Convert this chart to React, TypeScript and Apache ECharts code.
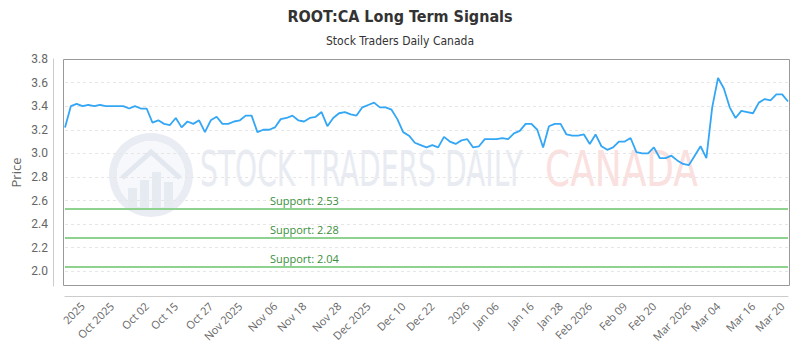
import React, { useEffect, useRef } from "react";
import * as echarts from "echarts";

// Closing prices, one per TSX trading day (Sep 22 2025 .. Mar 20 2026)
const values = [
  3.22, 3.40, 3.42, 3.40, 3.41, 3.40, 3.41, 3.40, 3.40, 3.40,
  3.40, 3.38, 3.40, 3.38, 3.38, 3.26, 3.28, 3.25, 3.24, 3.30,
  3.22, 3.27, 3.25, 3.28, 3.18, 3.28, 3.31, 3.25, 3.25, 3.27,
  3.28, 3.32, 3.32, 3.18, 3.20, 3.20, 3.22, 3.29, 3.30, 3.32,
  3.28, 3.27, 3.30, 3.31, 3.35, 3.23, 3.30, 3.34, 3.35, 3.33,
  3.32, 3.39, 3.41, 3.43, 3.39, 3.39, 3.37, 3.29, 3.18, 3.15,
  3.09, 3.07, 3.05, 3.07, 3.05, 3.14, 3.10, 3.08, 3.11, 3.12,
  3.05, 3.06, 3.12, 3.12, 3.12, 3.13, 3.12, 3.17, 3.19, 3.25,
  3.25, 3.20, 3.05, 3.23, 3.25, 3.25, 3.16, 3.15, 3.15, 3.16,
  3.08, 3.16, 3.06, 3.03, 3.05, 3.10, 3.10, 3.13, 3.01, 3.00,
  3.00, 3.05, 2.96, 2.96, 2.98, 2.94, 2.91, 2.90, 2.98, 3.06,
  2.96, 3.39, 3.64, 3.55, 3.39, 3.30, 3.36, 3.35, 3.34, 3.43,
  3.46, 3.45, 3.50, 3.50, 3.44,
];

const startDate = "2025-09-22";
const holidays = ["2025-10-13", "2025-12-25", "2025-12-26", "2026-01-01", "2026-02-16"];

function buildTradingDays(start: string, count: number): string[] {
  const out: string[] = [];
  const d = new Date(start + "T00:00:00Z");
  while (out.length < count) {
    const day = d.getUTCDay();
    const iso = d.toISOString().slice(0, 10);
    if (day !== 0 && day !== 6 && !holidays.includes(iso)) out.push(iso);
    d.setUTCDate(d.getUTCDate() + 1);
  }
  return out;
}
const categories = buildTradingDays(startDate, values.length);

const tickLabels = [
  "2025", "Oct 2025", "Oct 02", "Oct 15", "Oct 27", "Nov 2025", "Nov 06", "Nov 18",
  "Nov 28", "Dec 2025", "Dec 10", "Dec 22", "2026", "Jan 06", "Jan 16", "Jan 28",
  "Feb 2026", "Feb 09", "Feb 20", "Mar 2026", "Mar 04", "Mar 16", "Mar 20",
];
const tickIndices = [3, 8, 14, 19, 25, 30, 36, 41, 47, 52, 58, 63, 69, 74, 80, 85, 90, 96, 101, 107, 112, 118, 123];

const yTicks = [2.0, 2.2, 2.4, 2.6, 2.8, 3.0, 3.2, 3.4, 3.6, 3.8];
const yMin = 1.875;
const yMax = 3.8;

const supports = [2.53, 2.28, 2.04];

const titleText = "ROOT:CA Long Term Signals";
const subtitleText = "Stock Traders Daily Canada";

const condensed = "'Liberation Sans Narrow', 'DejaVu Sans Condensed', Roboto, sans-serif";

export default function App() {
  const ref = useRef<HTMLDivElement>(null);

  useEffect(() => {
    if (!ref.current) return;
    const chart = echarts.init(ref.current, undefined, { renderer: "svg" });
    const labelMap: Record<number, string> = {};
    tickIndices.forEach((idx, k) => (labelMap[idx] = tickLabels[k]));

    const option: any = {
      animation: false,
      backgroundColor: "#ffffff",
      title: {
        text: titleText,
        subtext: subtitleText,
        left: "center",
        top: 8,
        padding: 0,
        itemGap: 11,
        textStyle: { fontFamily: condensed, fontSize: 16, fontWeight: "bold", color: "#333333" },
        subtextStyle: { fontFamily: condensed, fontSize: 12, color: "#333333" },
      },
      grid: { left: 65, right: 12, top: 59, bottom: 64, containLabel: false, outerBoundsMode: "none" },
      xAxis: {
        type: "category",
        data: categories,
        boundaryGap: false,
        offset: 10,
        axisLine: { show: true, lineStyle: { color: "#cccccc", width: 1 } },
        axisTick: { show: false },
        splitLine: { show: false },
        axisLabel: {
          interval: (i: number) => labelMap[i] !== undefined,
          formatter: (_v: string, i: number) => labelMap[i] ?? "",
          rotate: 45,
          margin: 8,
          color: "#666666",
          fontSize: 11,
          fontFamily: "'Open Sans', sans-serif",
          hideOverlap: false,
        },
      },
      yAxis: {
        type: "value",
        min: yMin,
        max: yMax,
        offset: 12,
        name: "Price",
        nameLocation: "middle",
        nameGap: 31,
        nameRotate: 90,
        nameMoveOverlap: false,
        nameTextStyle: { color: "#666666", fontSize: 13, fontFamily: "'Open Sans', sans-serif" },
        axisLine: { show: true, lineStyle: { color: "#cccccc", width: 1 } },
        axisTick: { show: false, customValues: yTicks },
        axisLabel: {
          customValues: yTicks,
          formatter: (v: number) => v.toFixed(1),
          margin: 5,
          color: "#666666",
          fontSize: 12,
          fontFamily: "Roboto, sans-serif",
        },
        splitLine: { show: true, lineStyle: { type: [3, 3], color: "#e6e6e6", width: 1 } },
      },
      series: [
        {
          type: "line",
          data: values,
          symbol: "none",
          z: 5,
          lineStyle: { color: "#33a6f5", width: 1.8 },
          markLine: {
            silent: true,
            symbol: "none",
            animation: false,
            lineStyle: { color: "#8fd18f", width: 2, type: "solid" },
            label: {
              show: true,
              position: "insideStartTop",
              distance: [205, 3],
              formatter: (p: any) => "Support: " + p.value,
              color: "#3b8f3b",
              fontSize: 11,
              fontFamily: "'Open Sans', sans-serif",
            },
            data: supports.map((v) => ({ yAxis: v })),
          },
        },
      ],
      graphic: [
        // watermark logo
        {
          type: "ring",
          silent: true,
          z: 0,
          shape: { cx: 151, cy: 175, r: 42, r0: 34 },
          style: { fill: "#e9edf3" },
        },
        {
          type: "circle",
          silent: true,
          z: 0,
          shape: { cx: 151, cy: 175, r: 34 },
          style: { fill: "#f6f8fb" },
        },
        {
          type: "polyline",
          silent: true,
          z: 0,
          shape: { points: [[122, 178], [151, 152], [180, 178]] },
          style: { stroke: "#e3e8f0", lineWidth: 5, fill: "none" },
        },
        { type: "rect", silent: true, z: 0, shape: { x: 128, y: 188, width: 9, height: 20 }, style: { fill: "#e6eaf1" } },
        { type: "rect", silent: true, z: 0, shape: { x: 140, y: 180, width: 9, height: 28 }, style: { fill: "#e6eaf1" } },
        { type: "rect", silent: true, z: 0, shape: { x: 152, y: 172, width: 9, height: 36 }, style: { fill: "#e6eaf1" } },
        { type: "rect", silent: true, z: 0, shape: { x: 164, y: 182, width: 9, height: 26 }, style: { fill: "#e6eaf1" } },
        {
          type: "text",
          silent: true,
          z: 0,
          x: 200,
          y: 194,
          scaleX: 0.563,
          style: {
            text: "STOCK TRADERS DAILY",
            font: "50px 'DejaVu Sans', sans-serif",
            fill: "#e8ecf2",
            textVerticalAlign: "bottom",
          },
        },
        {
          type: "text",
          silent: true,
          z: 0,
          x: 545,
          y: 194,
          scaleX: 0.72,
          style: {
            text: "CANADA",
            font: "50px 'DejaVu Sans', sans-serif",
            fill: "#fbe0e0",
            textVerticalAlign: "bottom",
          },
        },
        // plot border
        {
          type: "rect",
          silent: true,
          z: 10,
          shape: { x: 63.5, y: 59.5, width: 726, height: 226 },
          style: { fill: "none", stroke: "#999999", lineWidth: 1 },
        },
      ],
    };

    chart.setOption(option);
    return () => chart.dispose();
  }, []);

  return <div ref={ref} style={{ width: 800, height: 350, margin: -8 }} />;
}
